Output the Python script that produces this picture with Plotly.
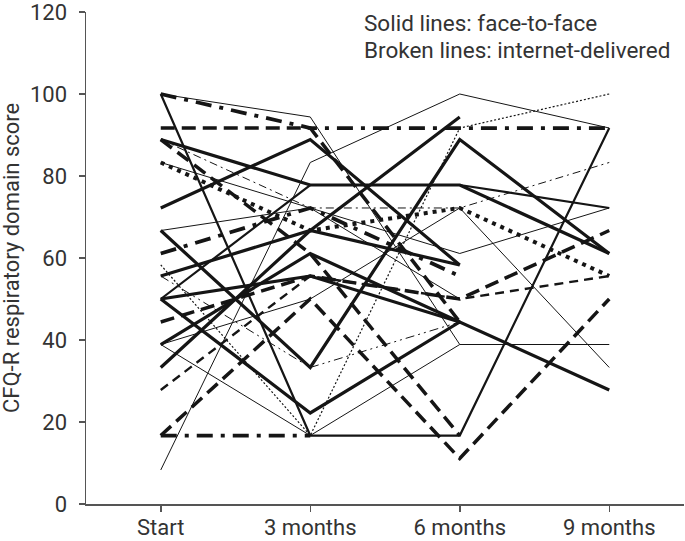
import plotly.graph_objects as go

categories = ["Start", "3 months", "6 months", "9 months"]

# CFQ-R respiratory domain scores per participant (Start, 3, 6, 9 months)
p01 = [100.0, 94.4, 38.9, 38.9]
p02 = [100.0, 91.7, 91.7, 91.7]
p03 = [100.0, 16.7, 16.7, 91.7]
p04 = [91.7, 91.7, 44.4, None]
p05 = [8.3, 83.3, 100.0, 91.7]
p06 = [72.2, 88.9, 58.3, None]
p07 = [88.9, 77.8, 77.8, 61.1]
p08 = [50.0, 77.8, 77.8, 72.2]
p09 = [66.7, 33.3, 88.9, 61.1]
p10 = [33.3, 66.7, 94.4, None]
p11 = [83.3, 66.7, 72.2, 55.6]
p12 = [88.9, 72.2, 72.2, 83.3]
p13 = [83.3, 72.2, 50.0, None]
p14 = [61.1, 72.2, 55.6, None]
p15 = [16.7, 50.0, 11.1, 50.0]
p16 = [16.7, 16.7, None, None]
p17 = [58.3, 16.7, 91.7, 100.0]
p18 = [38.9, 16.7, 38.9, None]
p19 = [38.9, 50.0, 72.2, 33.3]
p20 = [50.0, 22.2, 44.4, 27.8]
p21 = [50.0, 55.6, 44.4, None]
p22 = [44.4, 55.6, 50.0, 66.7]
p23 = [27.8, 55.6, 50.0, 55.6]
p24 = [88.9, 61.1, 16.7, None]
p25 = [55.6, 33.3, 44.4, None]
p26 = [66.7, 72.2, 61.1, 72.2]
p27 = [55.6, 66.7, 58.3, None]
p28 = [38.9, 61.1, 44.4, None]

series = [p01, p02, p03, p04, p05, p06, p07, p08, p09, p10, p11, p12, p13, p14,
          p15, p16, p17, p18, p19, p20, p21, p22, p23, p24, p25, p26, p27, p28]

# styles (width, dash) kept separately
THIN = (1.0, "solid")
MED = (2.2, "solid")
THICK = (3.2, "solid")
DASH_T = (3.5, "14px,7px")
DASH_M = (2.4, "9px,6px")
DASHDOT_T = (3.8, "16px,8px,4px,8px")
DASHDOT_THIN = (1.0, "8px,4px,2px,4px")
DASHDOTDOT_THIN = (1.0, "9px,4px,2px,4px,2px,4px")
DOT_T = (4.0, "4px,5px")
DOT_THIN = (1.2, "2px,2px")

styles = [THIN, DASHDOT_T, MED, DASH_T, THIN, THICK, THICK, MED, THICK, THICK,
          DOT_T, DASHDOT_THIN, THIN, DASHDOT_T, DASH_T, DASHDOT_T, DOT_THIN, THIN,
          THIN, THICK, THICK, DASH_T, DASH_M, DASH_T, DASHDOTDOT_THIN, THIN, THICK, THICK]

fig = go.Figure()
for vals, (w, d) in zip(series, styles):
    fig.add_trace(go.Scatter(
        x=categories, y=vals, mode="lines",
        line=dict(color="#151515", width=w, dash=d),
        connectgaps=False, showlegend=False, hoverinfo="skip"))

FONT = "Roboto"
TXT = "#333333"
AX = "#555555"

fig.update_layout(
    width=685, height=541,
    margin=dict(l=86, r=1, t=12, b=37, pad=0),
    paper_bgcolor="white", plot_bgcolor="white",
    font=dict(family=FONT, size=22, color=TXT),
    xaxis=dict(type="category", range=[-0.5, 3.5], showgrid=False, zeroline=False,
               showline=True, linecolor=AX, linewidth=1.5, automargin=False,
               ticks="outside", ticklen=6, tickcolor=AX, tickwidth=1.5,
               ticklabelstandoff=-3, ticklabeloverflow="allow",
               tickfont=dict(family=FONT, size=22, color=TXT)),
    yaxis=dict(range=[0, 120], tickvals=[0, 20, 40, 60, 80, 100, 120],
               showgrid=False, zeroline=False, automargin=False,
               showline=True, linecolor=AX, linewidth=1.5,
               ticks="outside", ticklen=6, tickcolor=AX, tickwidth=1.5,
               ticklabelstandoff=7, ticklabeloverflow="allow",
               tickfont=dict(family=FONT, size=22, color=TXT)),
    annotations=[
        dict(text="CFQ-R respiratory domain score", textangle=-90,
             xref="paper", yref="paper", x=-0.1254, y=0.5,
             xanchor="center", yanchor="middle", showarrow=False,
             font=dict(family=FONT, size=22, color=TXT)),
        dict(text="Solid lines: face-to-face",
             xref="paper", yref="paper", x=0.4615, y=0.9776,
             xanchor="left", yanchor="middle", showarrow=False,
             font=dict(family=FONT, size=22.5, color=TXT)),
        dict(text="Broken lines: internet-delivered",
             xref="paper", yref="paper", x=0.4615, y=0.9228,
             xanchor="left", yanchor="middle", showarrow=False,
             font=dict(family=FONT, size=22.5, color=TXT)),
    ],
)

fig.write_html("out.html",
               config={"displayModeBar": False, "staticPlot": True},
               post_script="document.body.style.margin='0px';document.body.style.overflow='hidden';")
